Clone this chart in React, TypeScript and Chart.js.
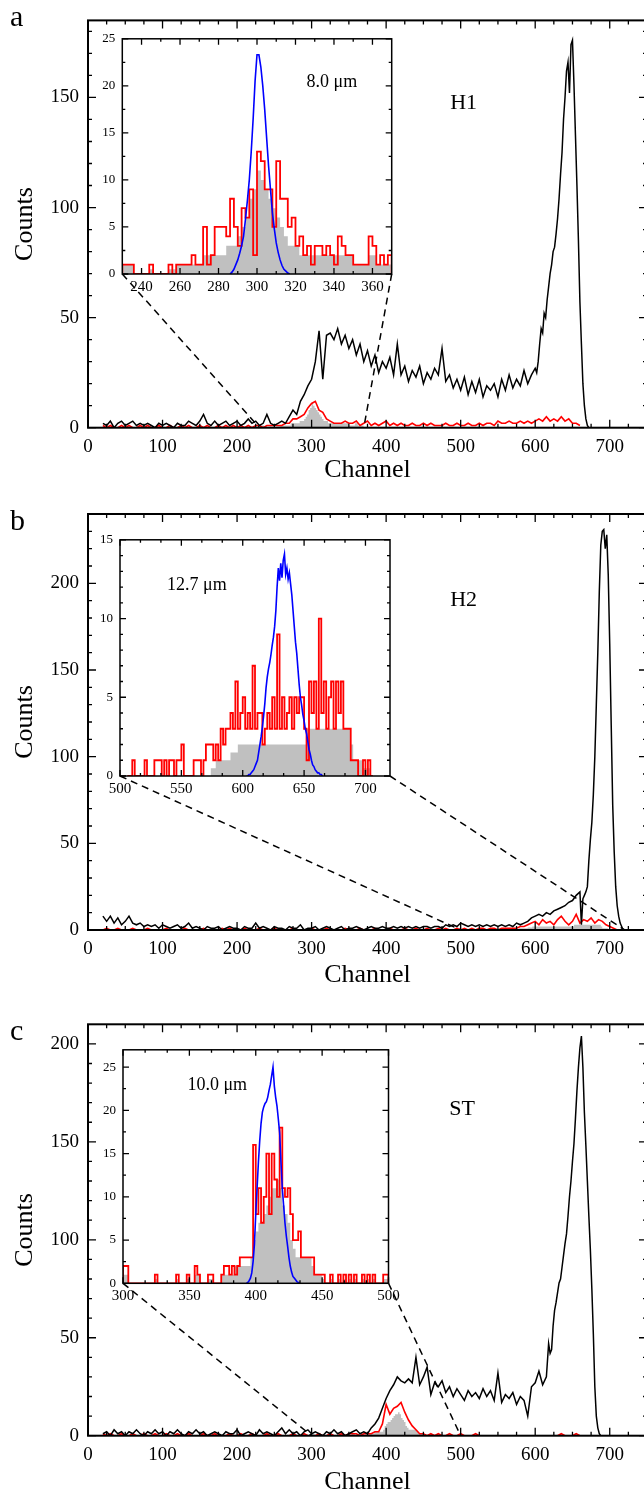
import { useEffect, useRef } from "react";
import { Chart, registerables } from "chart.js";

Chart.register(...registerables);

const SERIF = '"Liberation Serif", "Times New Roman", Times, serif';

/* ======================= DATA ======================= */
// Main spectra: coarse part sampled every LO_STEP channels, peak region every PK_STEP channels
const LO_STEP = 5;
const PK_STEP = 2;
// Inset histograms: bin width in channels
const BIN_W = 2;

// ---------- Panel a (H1) ----------
const blackA_x0 = 20;
const blackA = [
  2, 1, 3, 0, 2, 3, 1, 2, 3, 1, 2, 1, 2, 1, 0, 2, 1, 2, 1, 0,
  2, 1, 1, 3, 2, 1, 3, 6, 2, 1, 3, 1, 2, 3, 1, 2, 3, 1, 2, 4,
  2, 3, 1, 2, 6, 2, 1, 2, 3, 2, 5, 8, 6, 12, 15, 19, 22, 30, 44, 22,
  42, 43, 40, 45, 38, 42, 36, 40, 33, 38, 30, 35, 28, 33, 25, 30, 27, 32, 24, 38,
  24, 28, 21, 26, 23, 28, 20, 25, 22, 27, 24, 36, 21, 24, 18, 22, 17, 23, 15, 21,
  16, 22, 14, 19, 17, 20, 14, 22, 17, 24, 18, 22, 19, 26, 20, 24,
];
const blackAPeak_x0 = 600;
const blackAPeak = [
  27, 25, 30, 38, 45, 43, 52, 50, 58, 64, 70, 74, 80, 82, 88, 95, 104, 115, 125, 140,
  150, 162, 166, 152, 174, 176, 156, 133, 110, 85, 57, 38, 20, 10, 4, 1, 0, 0,
];
const redA_x0 = 20;
const redA = [
  1, 0, 1, 0, 0, 1, 0, 1, 0, 0, 1, 0, 1, 0, 0, 1, 0, 0, 1, 0,
  0, 1, 0, 1, 0, 0, 1, 0, 1, 0, 0, 1, 0, 1, 0, 1, 0, 1, 0, 1,
  0, 1, 1, 0, 1, 1, 1, 1, 1, 2, 2, 4, 4, 5, 6, 9, 11, 12, 8, 7,
  4, 3, 2, 2, 2, 3, 2, 2, 3, 1, 2, 3, 1, 2, 1, 2, 3, 1, 2, 1,
  2, 1, 1, 2, 1, 1, 2, 1, 2, 1, 1, 1, 2, 1, 1, 2, 1, 1, 2, 1,
  1, 2, 1, 2, 2, 1, 3, 2, 2, 3, 2, 2, 3, 2, 3, 2, 3, 4, 3, 5,
  3, 4, 3, 5, 3, 4, 2, 2, 1,
];
const insetA_x0 = 230;
const insetA_red = [
  1, 1, 1, 0, 0, 0, 0, 1, 0, 0,
  0, 0, 1, 0, 1, 1, 1, 1, 2, 1,
  1, 5, 1, 2, 5, 5, 5, 4, 8, 5,
  3, 7, 6, 9, 2, 13, 12, 9, 9, 5,
  12, 8, 8, 5, 6, 3, 4, 2, 3, 1,
  3, 3, 2, 3, 2, 1, 4, 3, 2, 2,
  1, 1, 1, 1, 4, 3, 1, 2, 1, 2,
];
const insetA_gray = [
  1, 1, 1, 0, 0, 0, 0, 0.5, 0, 0,
  0, 0, 0.5, 0.5, 1, 1, 1, 1, 1, 1,
  1, 2, 2, 2, 2, 2, 2, 3, 3, 3,
  4, 5, 6, 8, 9, 11, 10, 9, 8, 7,
  6, 5, 4, 3, 3, 3, 2, 2, 2, 2,
  2, 2, 2, 2, 2, 2, 2, 2, 2, 2,
  1, 1, 1, 1, 2, 2, 1, 1, 1, 1,
];
const insetA_blue_x0 = 286;
const insetA_blue = [
  0, 0.2, 0.5, 1, 1.5, 2.2, 3, 4, 5.8, 7.8, 10, 13, 16.5, 20.5, 23.3, 23.3,
  22, 20, 17.5, 14.5, 11.5, 9, 6.5, 4.8, 3.3, 2.3, 1.5, 0.9, 0.5, 0.3, 0.1, 0,
];

// ---------- Panel b (H2) ----------
const blackB_x0 = 20;
const blackB = [
  8, 5, 8, 4, 7, 3, 5, 8, 4, 3, 4, 2, 3, 2, 3, 1, 3, 2, 1, 2,
  3, 1, 2, 4, 1, 2, 1, 0, 2, 1, 1, 2, 0, 1, 2, 1, 1, 0, 2, 1,
  1, 4, 1, 2, 1, 0, 2, 1, 1, 0, 2, 1, 1, 3, 0, 1, 1, 2, 0, 1,
  2, 1, 0, 1, 2, 0, 1, 1, 2, 1, 0, 1, 2, 1, 1, 2, 1, 1, 2, 1,
  2, 1, 2, 1, 2, 1, 2, 2, 1, 2, 2, 1, 3, 2, 3, 2, 4, 3, 2, 3,
  2, 3, 2, 3, 2, 3, 2, 3, 2, 3, 2, 4, 3, 4, 5, 7, 8, 9, 8, 10,
  9, 11, 12, 13, 14, 16, 17, 20,
];
const blackBPeak_x0 = 660;
const blackBPeak = [
  22, 3, 18, 20, 22, 25, 40, 52, 62, 78, 100, 130, 160, 195, 222, 230, 231, 220, 228, 205,
  165, 118, 72, 45, 25, 14, 8, 4, 2, 0, 0,
];
const redB_x0 = 20;
const redB = [
  0, 1, 0, 0, 1, 0, 0, 0, 1, 0, 0, 0, 1, 0, 0, 0, 0, 1, 0, 0,
  0, 0, 1, 0, 0, 0, 0, 1, 0, 0, 0, 0, 1, 0, 1, 0, 0, 0, 1, 0,
  0, 0, 1, 0, 0, 0, 1, 0, 0, 0, 0, 1, 0, 0, 0, 0, 1, 0, 0, 0,
  1, 0, 0, 0, 0, 1, 0, 0, 0, 1, 0, 0, 0, 1, 0, 0, 0, 1, 0, 0,
  0, 1, 0, 0, 1, 0, 0, 1, 0, 0, 1, 0, 1, 0, 0, 1, 0, 1, 0, 1,
  0, 1, 1, 0, 1, 1, 0, 1, 1, 1, 1, 1, 2, 2, 3, 4, 5, 3, 6, 4,
  5, 3, 6, 8, 5, 3, 5, 9, 4, 6, 5, 7, 4, 6, 5, 3, 2, 1, 0,
];
const insetB_x0 = 506;
const insetB_red = [
  0, 0, 1, 0, 0, 0, 0, 1, 0, 0,
  0, 1, 1, 1, 0, 1, 0, 1, 1, 0,
  1, 1, 2, 0, 0, 0, 0, 1, 1, 1,
  0, 1, 2, 2, 2, 1, 2, 1, 3, 2,
  3, 3, 4, 3, 6, 3, 4, 5, 3, 4,
  3, 7, 3, 4, 4, 2, 3, 4, 3, 5,
  3, 9, 3, 5, 3, 4, 5, 3, 5, 4,
  5, 5, 3, 1, 6, 4, 6, 3, 10, 4,
  6, 3, 5, 6, 3, 6, 4, 6, 3, 3,
  3, 1, 1, 1, 0, 0, 1, 0, 1, 0,
];
const insetB_gray = [
  0, 0, 0, 0, 0, 0, 0, 0, 0, 0,
  0, 0, 0, 0, 0, 0, 0, 0, 0, 0,
  0, 0, 0, 0, 0, 0, 0, 0, 0, 0,
  0, 0, 0, 0, 0.5, 0.5, 1, 1, 1, 1,
  1, 1, 1.5, 1.5, 1.5, 2, 2, 2, 2, 2,
  2, 2, 2, 2, 2, 2, 2, 2, 2, 2,
  2, 2, 2, 2, 2, 2, 2, 2, 2, 2,
  2, 2, 2, 3, 3, 3, 3, 3, 3, 3,
  3, 3, 3, 3, 3, 3, 3, 3, 3, 3,
  3, 2, 1, 1, 1, 1, 0.5, 0.5, 0.5, 0,
];
const insetB_blue_x0 = 603;
const insetB_blue = [
  0, 0, 0.1, 0.1, 0.2, 0.3, 0.4, 0.6, 0.8, 1, 1.5, 2, 2.5, 3.1, 3.8, 4.6, 5.6, 6.3, 6.8, 7.2,
  7.7, 8.3, 8.8, 9.5, 10.5, 12, 13.2, 12.4, 13.5, 12.6, 13.7, 14.1, 12.8, 13.2, 12.5, 12.9, 12.2, 11.5, 10.5, 9.5,
  8.5, 7.8, 6.8, 5.8, 5, 4.5, 3.9, 3.5, 3, 2.7, 2.2, 1.7, 1.4, 1, 0.7, 0.6, 0.4, 0.3, 0.2, 0.2,
  0.1, 0.1, 0,
];

// ---------- Panel c (ST) ----------
const blackC_x0 = 20;
const blackC = [
  1, 2, 0, 3, 1, 2, 0, 2, 1, 3, 1, 0, 2, 1, 3, 1, 2, 0, 2, 1,
  3, 1, 0, 2, 1, 3, 1, 2, 0, 1, 2, 1, 0, 2, 1, 1, 3, 0, 1, 2,
  1, 0, 3, 1, 2, 1, 0, 2, 4, 1, 3, 1, 2, 0, 2, 3, 1, 2, 1, 0,
  2, 1, 3, 1, 2, 0, 1, 2, 3, 1, 2, 1, 4, 6, 9, 14, 19, 23, 26, 30,
  28, 27, 29, 27, 40, 26, 30, 35, 21, 27, 25, 28, 22, 25, 20, 24, 21, 18, 23, 20,
  22, 19, 24, 20, 23, 18, 32, 17, 21, 19, 22, 16, 20, 18, 10, 25, 27, 33, 26, 30,
];
const blackCPeak_x0 = 618;
const blackCPeak = [
  47, 42, 44, 56, 64, 68, 73, 78, 80, 86, 92, 98, 103, 112, 122, 130, 140, 149, 162, 176,
  188, 198, 204, 188, 165, 148, 130, 112, 95, 75, 52, 25, 10, 4, 1, 0, 0, 0,
];
const redC_x0 = 20;
const redC = [
  1, 0, 1, 0, 0, 1, 0, 0, 1, 0, 0, 1, 0, 0, 1, 0, 0, 1, 0, 0,
  1, 0, 0, 1, 0, 0, 0, 1, 0, 0, 1, 0, 0, 0, 1, 0, 0, 1, 0, 0,
  1, 0, 0, 0, 1, 0, 0, 1, 0, 0, 0, 1, 0, 0, 1, 0, 0, 0, 1, 0,
  0, 1, 0, 0, 1, 0, 1, 1, 1, 0, 1, 1, 1, 2, 2, 6, 16, 11, 14, 15,
  17, 12, 8, 5, 3, 1, 1, 0, 1, 0, 1, 0, 0, 1, 0, 0, 1, 0, 0, 0,
  1, 0, 0, 0, 0, 0, 0, 0, 0, 0, 0, 0, 0, 0, 0, 0, 0, 0, 0, 0,
  0, 0, 0, 1, 0, 0, 0, 1, 0,
];
const insetC_x0 = 300;
const insetC_red = [
  2, 2, 0, 0, 0, 0, 0, 0, 0, 0,
  0, 0, 1, 0, 0, 0, 0, 0, 0, 0,
  1, 0, 0, 0, 1, 0, 0, 2, 1, 0,
  0, 0, 1, 1, 0, 0, 0, 1, 2, 2,
  1, 2, 1, 2, 3, 3, 3, 3, 3, 16,
  8, 11, 7, 10, 15, 8, 15, 12, 10, 18,
  11, 10, 11, 8, 5, 5, 6, 3, 3, 3,
  3, 3, 1, 1, 1, 1, 0, 0, 1, 0,
  0, 1, 0, 1, 0, 1, 0, 1, 0, 0,
  1, 0, 1, 0, 1, 0, 0, 0, 1, 1,
];
const insetC_gray = [
  1, 1, 0, 0, 0, 0, 0, 0, 0, 0,
  0, 0, 0.5, 0, 0, 0, 0, 0, 0, 0,
  0.5, 0, 0, 0, 0.5, 0, 0, 1, 1, 0,
  0, 0, 0.5, 0.5, 0, 0, 0, 1, 1, 1,
  1, 1, 2, 2, 2, 2, 2, 2, 3, 5,
  6, 7, 7, 8, 9, 10, 11, 11, 12, 11,
  9, 8, 7, 5, 4, 3, 3, 3, 3, 3,
  3, 2, 1, 1, 1, 0.5, 0, 0, 0.5, 0,
  0, 0.5, 0, 0.5, 0, 0.5, 0, 0.5, 0, 0,
  0.5, 0, 0.5, 0, 0.5, 0, 0, 0, 0.5, 0.5,
];
const insetC_blue_x0 = 393;
const insetC_blue = [
  0, 0.1, 0.3, 0.6, 1.2, 2.5, 4.5, 8, 11, 14, 16.5, 18.5, 19.8, 20.4, 20.8, 21, 21.5, 22.3, 23, 24,
  25, 22.8, 21.5, 20.5, 19, 17.4, 14, 11, 9, 7, 5.5, 4.3, 3, 2, 1.3, 0.8, 0.6, 0.4, 0.2, 0.1, 0,
];

// ---------- Tick labels ----------
const mainXTicks = [0, 100, 200, 300, 400, 500, 600, 700];
const mainYTicksA = [0, 50, 100, 150];
const mainYTicksBC = [0, 50, 100, 150, 200];
const insetXTicksA = [240, 260, 280, 300, 320, 340, 360];
const insetXTicksB = [500, 550, 600, 650, 700];
const insetXTicksC = [300, 350, 400, 450, 500];
const insetYTicksAC = [0, 5, 10, 15, 20, 25];
const insetYTicksB = [0, 5, 10, 15];

/* ======================= HELPERS ======================= */
type Pt = { x: number; y: number };
const series = (x0: number, step: number, vals: number[]): Pt[] =>
  vals.map((y, i) => ({ x: x0 + i * step, y }));
const hist = (x0: number, w: number, vals: number[]): Pt[] => {
  const pts: Pt[] = [{ x: x0, y: 0 }];
  vals.forEach((y, i) => pts.push({ x: x0 + i * w, y }));
  const end = x0 + vals.length * w;
  pts.push({ x: end, y: vals[vals.length - 1] });
  pts.push({ x: end, y: 0 });
  return pts;
};
const minors = (step: number, min: number, max: number, majors: number[]) => {
  const out: number[] = [];
  const n = Math.round((max - min) / step);
  for (let i = 1; i < n; i++) {
    const v = min + i * step;
    if (!majors.some((m) => Math.abs(m - v) < 1e-6)) out.push(v);
  }
  return out;
};

type Rect = { left: number; top: number; width: number; height: number };
type Area = { l: number; t: number; r: number; b: number };
type Note = { x: number; y: number; text: string; size: number };
type Deco = {
  xMajor: number[];
  xMinor: number[];
  yMajor: number[];
  yMinor: number[];
  majorLen: number;
  minorLen: number;
  frameWidth: number;
  white?: boolean;
  notes: Note[];
  letter?: { text: string; x: number; y: number; size: number };
  links?: { from: [number, number]; to: [number, number] }[];
};

function decoPlugin(cfg: Deco) {
  return {
    id: "deco",
    beforeDatasetsDraw(chart: any) {
      if (!cfg.white) return;
      const a = chart.chartArea;
      const ctx = chart.ctx;
      ctx.save();
      ctx.fillStyle = "#ffffff";
      ctx.fillRect(a.left, a.top, a.right - a.left, a.bottom - a.top);
      ctx.restore();
    },
    afterDatasetsDraw(chart: any) {
      const { ctx, chartArea: a, scales } = chart;
      const xs = scales.x;
      const ys = scales.y;
      ctx.save();
      ctx.strokeStyle = "#000";
      ctx.lineWidth = 1.3;
      ctx.beginPath();
      const xt = (vals: number[], len: number) => {
        for (const v of vals) {
          const p = xs.getPixelForValue(v);
          ctx.moveTo(p, a.bottom);
          ctx.lineTo(p, a.bottom - len);
          ctx.moveTo(p, a.top);
          ctx.lineTo(p, a.top + len);
        }
      };
      const yt = (vals: number[], len: number) => {
        for (const v of vals) {
          const p = ys.getPixelForValue(v);
          ctx.moveTo(a.left, p);
          ctx.lineTo(a.left + len, p);
          ctx.moveTo(a.right, p);
          ctx.lineTo(a.right - len, p);
        }
      };
      xt(cfg.xMajor, cfg.majorLen);
      xt(cfg.xMinor, cfg.minorLen);
      yt(cfg.yMajor, cfg.majorLen);
      yt(cfg.yMinor, cfg.minorLen);
      ctx.stroke();
      ctx.lineWidth = cfg.frameWidth;
      ctx.strokeRect(a.left, a.top, a.right - a.left, a.bottom - a.top);
      if (cfg.links) {
        ctx.setLineDash([7, 5]);
        ctx.lineWidth = 1.5;
        for (const l of cfg.links) {
          ctx.beginPath();
          ctx.moveTo(l.from[0], l.from[1]);
          ctx.lineTo(xs.getPixelForValue(l.to[0]), ys.getPixelForValue(l.to[1]));
          ctx.stroke();
        }
        ctx.setLineDash([]);
      }
      ctx.fillStyle = "#000";
      ctx.textAlign = "center";
      ctx.textBaseline = "middle";
      for (const n of cfg.notes) {
        ctx.font = `${n.size}px ${SERIF}`;
        ctx.fillText(n.text, xs.getPixelForValue(n.x), ys.getPixelForValue(n.y));
      }
      if (cfg.letter) {
        ctx.textAlign = "left";
        ctx.textBaseline = "alphabetic";
        ctx.font = `${cfg.letter.size}px ${SERIF}`;
        ctx.fillText(cfg.letter.text, cfg.letter.x, cfg.letter.y);
      }
      ctx.restore();
    },
  };
}

type Spec = {
  rect: Rect;
  area: Area;
  datasets: any[];
  xMin: number;
  xMax: number;
  yMax: number;
  xTicks: number[];
  yTicks: number[];
  xFont: number;
  yFont: number;
  xPad: number;
  yPad: number;
  xTitle?: { text: string; size: number; padBottom: number };
  yTitle?: { text: string; size: number; padTop: number };
  deco: Deco;
};

function buildConfig(s: Spec): any {
  const yWidth = s.area.l - s.rect.left;
  const padTop = s.area.t - s.rect.top;
  const padRight = s.rect.left + s.rect.width - s.area.r;
  const xHeight = s.rect.top + s.rect.height - s.area.b;
  return {
    type: "line",
    data: { datasets: s.datasets },
    options: {
      responsive: false,
      animation: false,
      devicePixelRatio: 1,
      events: [],
      layout: { padding: { top: padTop, right: padRight, left: 0, bottom: 0 } },
      plugins: { legend: { display: false }, tooltip: { enabled: false } },
      elements: { point: { radius: 0 }, line: { tension: 0 } },
      scales: {
        x: {
          type: "linear",
          min: s.xMin,
          max: s.xMax,
          grid: { display: false, drawTicks: false },
          border: { display: false },
          ticks: {
            autoSkip: false,
            maxRotation: 0,
            minRotation: 0,
            padding: s.xPad,
            color: "#000",
            font: { family: SERIF, size: s.xFont },
            callback: (v: any) => String(v),
          },
          afterBuildTicks: (sc: any) => {
            sc.ticks = s.xTicks.map((value) => ({ value }));
          },
          afterFit: (sc: any) => {
            sc.height = xHeight;
          },
          title: s.xTitle
            ? {
                display: true,
                text: s.xTitle.text,
                color: "#000",
                font: { family: SERIF, size: s.xTitle.size },
                padding: { top: 0, bottom: s.xTitle.padBottom },
              }
            : { display: false },
        },
        y: {
          type: "linear",
          min: 0,
          max: s.yMax,
          grid: { display: false, drawTicks: false },
          border: { display: false },
          ticks: {
            autoSkip: false,
            padding: s.yPad,
            color: "#000",
            font: { family: SERIF, size: s.yFont },
            callback: (v: any) => String(v),
          },
          afterBuildTicks: (sc: any) => {
            sc.ticks = s.yTicks.map((value) => ({ value }));
          },
          afterFit: (sc: any) => {
            sc.width = yWidth;
          },
          title: s.yTitle
            ? {
                display: true,
                text: s.yTitle.text,
                color: "#000",
                font: { family: SERIF, size: s.yTitle.size },
                padding: { top: s.yTitle.padTop, bottom: 0 },
              }
            : { display: false },
        },
      },
    },
    plugins: [decoPlugin(s.deco)],
  };
}

const grayDs = (pts: Pt[]) => ({
  data: pts,
  stepped: true,
  fill: "origin",
  backgroundColor: "#c0c0c0",
  borderColor: "rgba(0,0,0,0)",
  borderWidth: 0,
  pointRadius: 0,
});
const lineDs = (pts: Pt[], color: string, width: number, stepped = false) => ({
  data: pts,
  stepped,
  fill: false,
  borderColor: color,
  borderWidth: width,
  pointRadius: 0,
});

/* ======================= LAYOUT ======================= */
const MAIN_L = 88;
const MAIN_R = 647;
const mainRects: Rect[] = [
  { left: 0, top: 0, width: 660, height: 490 },
  { left: 0, top: 490, width: 660, height: 502 },
  { left: 0, top: 992, width: 660, height: 506 },
];
const mainAreas: Area[] = [
  { l: MAIN_L, t: 17, r: MAIN_R, b: 427.7 },
  { l: MAIN_L, t: 514, r: MAIN_R, b: 930 },
  { l: MAIN_L, t: 1024.3, r: MAIN_R, b: 1435.7 },
];
const channelCenters = [470, 975, 1482];
const insetRects: Rect[] = [
  { left: 80, top: 24, width: 330, height: 282 },
  { left: 80, top: 525, width: 330, height: 283 },
  { left: 80, top: 1035, width: 330, height: 280 },
];
const insetAreas: Area[] = [
  { l: 122.3, t: 34, r: 391.7, b: 274 },
  { l: 120, t: 535, r: 390, b: 776 },
  { l: 123, t: 1045, r: 388.5, b: 1283.3 },
];

function buildAll(): Spec[] {
  const mainXMinor = minors(25, 0, 750, mainXTicks);
  const panels = [
    {
      black: [...series(blackA_x0, LO_STEP, blackA), ...series(blackAPeak_x0, PK_STEP, blackAPeak)],
      red: series(redA_x0, LO_STEP, redA),
      grayPts: hist(insetA_x0, BIN_W, insetA_gray),
      redH: hist(insetA_x0, BIN_W, insetA_red),
      blue: series(insetA_blue_x0, 1, insetA_blue),
      yMax: 185,
      yTicks: mainYTicksA,
      label: "H1",
      labelPos: [504, 147.6],
      letter: "a",
      inset: { x0: 230, x1: 370, yMax: 25, xTicks: insetXTicksA, yTicks: insetYTicksAC, xMinStep: 10, yMinStep: 2.5, note: "8.0 μm", notePos: [338.9, 20.4] },
    },
    {
      black: [...series(blackB_x0, LO_STEP, blackB), ...series(blackBPeak_x0, PK_STEP, blackBPeak)],
      red: series(redB_x0, LO_STEP, redB),
      grayPts: hist(insetB_x0, BIN_W, insetB_gray),
      redH: hist(insetB_x0, BIN_W, insetB_red),
      blue: series(insetB_blue_x0, 1, insetB_blue),
      yMax: 240,
      yTicks: mainYTicksBC,
      label: "H2",
      labelPos: [504, 190],
      letter: "b",
      inset: { x0: 500, x1: 720, yMax: 15, xTicks: insetXTicksB, yTicks: insetYTicksB, xMinStep: 50 / 3, yMinStep: 1, note: "12.7 μm", notePos: [562.7, 12.1] },
    },
    {
      black: [...series(blackC_x0, LO_STEP, blackC), ...series(blackCPeak_x0, PK_STEP, blackCPeak)],
      red: series(redC_x0, LO_STEP, redC),
      grayPts: hist(insetC_x0, BIN_W, insetC_gray),
      redH: hist(insetC_x0, BIN_W, insetC_red),
      blue: series(insetC_blue_x0, 1, insetC_blue),
      yMax: 210,
      yTicks: mainYTicksBC,
      label: "ST",
      labelPos: [502, 166.4],
      letter: "c",
      inset: { x0: 300, x1: 500, yMax: 27, xTicks: insetXTicksC, yTicks: insetYTicksAC, xMinStep: 50 / 3, yMinStep: 2.5, note: "10.0 μm", notePos: [371, 22.9] },
    },
  ];
  const specs: Spec[] = [];
  panels.forEach((p, i) => {
    const mr = mainRects[i];
    const ia = insetAreas[i];
    const letterBase = [26, 530, 1040][i];
    specs.push({
      rect: mr,
      area: mainAreas[i],
      datasets: [lineDs(p.black, "#000000", 1.5), lineDs(p.red, "#ff0000", 1.6), grayDs(p.grayPts)],
      xMin: 0,
      xMax: 750,
      yMax: p.yMax,
      xTicks: mainXTicks,
      yTicks: p.yTicks,
      xFont: 19,
      yFont: 19,
      xPad: 8,
      yPad: 9,
      xTitle: { text: "Channel", size: 26, padBottom: Math.max(0, mr.top + mr.height - channelCenters[i] - 15.6) },
      yTitle: { text: "Counts", size: 26, padTop: 9.4 },
      deco: {
        xMajor: mainXTicks,
        xMinor: mainXMinor,
        yMajor: p.yTicks,
        yMinor: minors(10, 0, p.yMax, p.yTicks),
        majorLen: 8,
        minorLen: 4,
        frameWidth: 2,
        notes: [{ x: p.labelPos[0], y: p.labelPos[1], text: p.label, size: 22 }],
        letter: { text: p.letter, x: 10, y: letterBase - mr.top, size: 30 },
        links: [
          { from: [ia.l - mr.left, ia.b - mr.top], to: [p.inset.x0, 0] },
          { from: [ia.r - mr.left, ia.b - mr.top], to: [p.inset.x1, 0] },
        ],
      },
    });
    specs.push({
      rect: insetRects[i],
      area: ia,
      datasets: [lineDs(p.blue, "#0000ff", 1.6), lineDs(p.redH, "#ff0000", 1.8, true), grayDs(p.grayPts)],
      xMin: p.inset.x0,
      xMax: p.inset.x1,
      yMax: p.inset.yMax,
      xTicks: p.inset.xTicks,
      yTicks: p.inset.yTicks,
      xFont: 15,
      yFont: 13,
      xPad: 4,
      yPad: 7,
      deco: {
        xMajor: p.inset.xTicks,
        xMinor: minors(p.inset.xMinStep, p.inset.x0, p.inset.x1, p.inset.xTicks),
        yMajor: p.inset.yTicks,
        yMinor: minors(p.inset.yMinStep, 0, p.inset.yMax, p.inset.yTicks),
        majorLen: 6,
        minorLen: 3,
        frameWidth: 1.5,
        white: true,
        notes: [{ x: p.inset.notePos[0], y: p.inset.notePos[1], text: p.inset.note, size: 18 }],
      },
    });
  });
  return specs;
}

const SPECS = buildAll();

export default function App() {
  const refs = useRef<(HTMLCanvasElement | null)[]>([]);
  useEffect(() => {
    const charts: Chart[] = [];
    SPECS.forEach((s, i) => {
      const c = refs.current[i];
      if (c) charts.push(new Chart(c, buildConfig(s)));
    });
    return () => charts.forEach((ch) => ch.destroy());
  }, []);
  return (
    <div
      style={{
        position: "absolute",
        left: 0,
        top: 0,
        width: 644,
        height: 1493,
        overflow: "hidden",
        background: "#ffffff",
      }}
    >
      {SPECS.map((s, i) => (
        <canvas
          key={i}
          ref={(el) => {
            refs.current[i] = el;
          }}
          width={s.rect.width}
          height={s.rect.height}
          style={{
            position: "absolute",
            left: s.rect.left,
            top: s.rect.top,
            width: s.rect.width,
            height: s.rect.height,
          }}
        />
      ))}
    </div>
  );
}
